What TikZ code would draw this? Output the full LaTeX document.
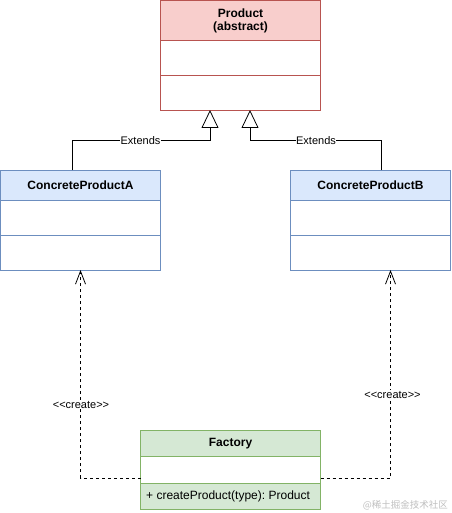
\documentclass[tikz,border=0pt]{standalone}
\usepackage{fontspec}
\setmainfont{Liberation Sans}
\newfontfamily\cjkfont{Noto Sans CJK SC}
\usetikzlibrary{arrows.meta,positioning}
\frenchspacing
\definecolor{redfill}{HTML}{F8CECC}
\definecolor{redline}{HTML}{B85450}
\definecolor{bluefill}{HTML}{DAE8FC}
\definecolor{blueline}{HTML}{6C8EBF}
\definecolor{greenfill}{HTML}{D5E8D4}
\definecolor{greenline}{HTML}{82B366}
\tikzset{
  hdr/.style={draw=#1line, fill=#1fill, line width=0.8pt, inner sep=0pt, font=\fontsize{12}{14}\selectfont\bfseries, align=center},
  body/.style={draw=#1line, fill=white, line width=0.8pt, inner sep=0pt},
  lbl/.style={font=\fontsize{11}{13}\selectfont, fill=white, inner sep=0.5pt},
  extends/.style={line width=0.8pt, -{Triangle[open, length=18pt, width=17pt, line width=0.8pt, fill=white]}},
  creates/.style={line width=0.8pt, dashed, dash pattern=on 3pt off 3pt, -{Straight Barb[length=13pt, width=10pt, line width=0.8pt]}}
}
\begin{document}
\begin{tikzpicture}[x=1pt, y=-1pt]
\useasboundingbox (0,0) rectangle (451,513);
% Product
\draw[body=red] (160.5,40) rectangle (320.5,110);
\draw[redline, line width=0.8pt] (160.5,75) -- (320.5,75);
\node[hdr=red, minimum width=160pt, minimum height=40pt] (prod) at (240.5,20.5) {Product\\[-1pt](abstract)};
\coordinate (prodbot) at (240.5,110);
% Concrete A
\draw[body=blue] (0.5,200) rectangle (160.5,270);
\draw[blueline, line width=0.8pt] (0.5,235) -- (160.5,235);
\node[hdr=blue, minimum width=160pt, minimum height=30pt] (ca) at (80.5,185) {ConcreteProductA};
% Concrete B
\draw[body=blue] (290.5,200) rectangle (450.5,270);
\draw[blueline, line width=0.8pt] (290.5,235) -- (450.5,235);
\node[hdr=blue, minimum width=160pt, minimum height=30pt] (cb) at (370.5,185) {ConcreteProductB};
% Factory
\draw[body=green] (140.5,456) rectangle (320.5,483);
\node[draw=greenline, fill=greenfill, line width=0.8pt, minimum width=180pt, minimum height=26pt, inner sep=0pt] (fm) at (230.5,496) {};
\node[font=\fontsize{12}{14}\selectfont, anchor=west, inner sep=0pt] (meth) at (146,496.5) {+ createProduct(type): Product};
\node[hdr=green, minimum width=180pt, minimum height=25.5pt] (fac) at (230.5,443.5) {Factory};
\coordinate (facleft) at (140.5,478);
\coordinate (facright) at (320.5,478);
% Extends connectors
\coordinate (ta) at (210,110);
\coordinate (tb) at (250,110);
\draw[extends] (72,170) -- (72,140.5) -- (210,140.5) -- (ta);
\draw[extends] (381,170) -- (381,140.5) -- (250,140.5) -- (tb);
\node[lbl] (ea) at (140.5,140.5) {Extends};
\node[lbl] (eb) at (316,140.5) {Extends};
% Create connectors
\coordinate (abot) at (80.5,270);
\coordinate (bbot) at (390.5,270);
\draw[creates] (facleft) -- (80.5,478) -- (abot);
\draw[creates] (facright) -- (390.5,478) -- (bbot);
\node[lbl] (cra) at (81,404.5) {{<}{<}create{>}{>}};
\node[lbl] (crb) at (392.5,394.5) {{<}{<}create{>}{>}};
% watermark
\node[font=\cjkfont\fontsize{9.5}{11}\selectfont, text=black!25, anchor=east, inner sep=0pt] (wm) at (448,505) {@稀土掘金技术社区};
\end{tikzpicture}
\end{document}
